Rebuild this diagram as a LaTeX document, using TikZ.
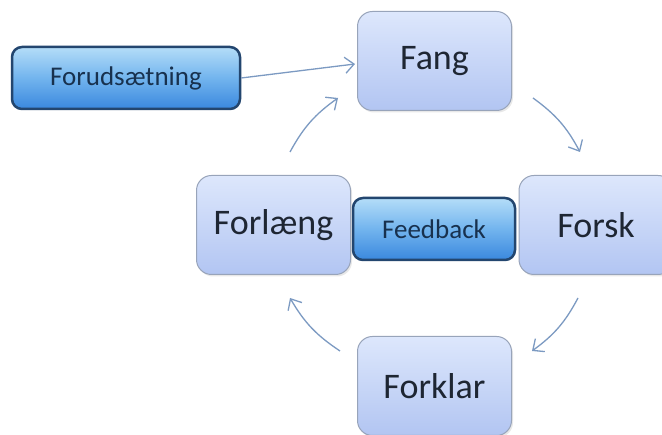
\documentclass[tikz,border=0pt]{standalone}
\usepackage{fontspec}
\setmainfont{Carlito}
\usepackage{xcolor}
\usepackage{tikz}
\usetikzlibrary{positioning,arrows.meta,calc,shadows}
\definecolor{phasetop}{HTML}{DDE7FC}
\definecolor{phasebot}{HTML}{B2C5F2}
\definecolor{phaseline}{HTML}{98A4BA}
\definecolor{condtop}{HTML}{B4DDF8}
\definecolor{condmid}{HTML}{72B4EE}
\definecolor{condbot}{HTML}{3A88DE}
\definecolor{condline}{HTML}{23466F}
\definecolor{arrowcol}{HTML}{7C9AC2}
\definecolor{textcol}{HTML}{1E2633}
\tikzset{
  phase/.style = {draw=phaseline, line width=1pt, rounded corners=15pt,
                  top color=phasetop, bottom color=phasebot, text=textcol,
                  minimum width=154pt, minimum height=99pt, font=\fontsize{36}{40}\selectfont,
                  drop shadow={opacity=0.18, shadow xshift=1.5pt, shadow yshift=-2pt}},
  cond/.style  = {draw=condline, line width=2.5pt, rounded corners=10pt,
                  top color=condtop, bottom color=condbot, middle color=condmid,
                  text=condline!70!black, minimum height=62pt, font=\fontsize{27}{30}\selectfont},
  arrow/.style = {-{Straight Barb[length=9pt,width=16pt]}, line width=1.3pt, draw=arrowcol},
  cycarrow/.style = {arrow, bend left=13},
}

\begin{document}
\begin{tikzpicture}[x=1pt, y=1pt]
  \useasboundingbox (0,0) rectangle (662,435);
  \clip (0,0) rectangle (662,435);
  \fill[white] (0,0) rectangle (662,435);
  % phases of the cycle
  \node[phase] (fang)     at (434.5,374) {Fang};
  \node[phase] (forsk)    at (596,210)   {Forsk};
  \node[phase] (forklar)  at (434.5,49)  {Forklar};
  \node[phase] (forlaeng) at (273.5,210) {Forlæng};
  % conditions
  \node[cond, minimum width=162pt] (feedback) at (434,206) {Feedback};
  \node[cond, minimum width=228pt] (forud)    at (126,357) {Forudsætning};
  % arrows
  \draw[arrow] (forud.east) -- ([yshift=-3pt, xshift=-2pt]fang.west);
  \draw[cycarrow] ($(fang.south east)+(21,13)$) to ($(forsk.north)+(-16,23)$);
  \draw[cycarrow] ($(forsk.south)+(-18,-23)$) to ($(forklar.north east)+(20,-15)$);
  \draw[cycarrow] ($(forklar.north west)+(-17,-15)$) to ($(forlaeng.south)+(16.5,-23)$);
  \draw[cycarrow] ($(forlaeng.north)+(16.5,23)$) to ($(fang.south west)+(-19,13)$);
\end{tikzpicture}
\end{document}
